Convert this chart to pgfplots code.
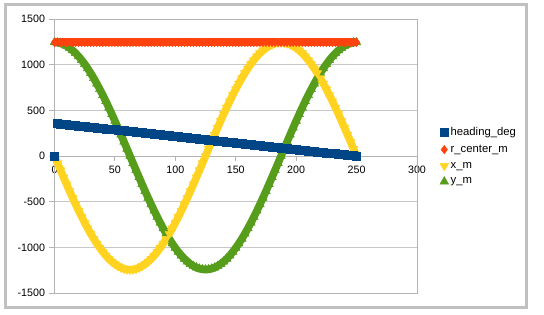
\documentclass[border=0pt]{standalone}
\usepackage{pgfplots}
\usepackage{pgfplotstable}
\pgfplotsset{compat=1.18}
\usepackage{fontspec}
\setmainfont{Liberation Sans}
\definecolor{cH}{HTML}{004586}
\definecolor{cR}{HTML}{FF420E}
\definecolor{cX}{HTML}{FFD320}
\definecolor{cY}{HTML}{579D1C}
\definecolor{gridGray}{HTML}{C8C8C8}
\definecolor{axisGray}{HTML}{B3B3B3}
\definecolor{frameGray}{HTML}{C0C0C0}

\pgfplotstableread{
t h r x y
0 0 1243.95 0 1243.95
2.5 356.4 1243.95 -78.11 1241.50
5 352.8 1243.95 -155.91 1234.14
7.5 349.2 1243.95 -233.09 1221.92
10 345.6 1243.95 -309.36 1204.87
12.5 342 1243.95 -384.40 1183.07
15 338.4 1243.95 -457.93 1156.59
17.5 334.8 1243.95 -529.65 1125.56
20 331.2 1243.95 -599.28 1090.08
22.5 327.6 1243.95 -666.54 1050.30
25 324 1243.95 -731.17 1006.38
27.5 320.4 1243.95 -792.93 958.48
30 316.8 1243.95 -851.54 906.80
32.5 313.2 1243.95 -906.80 851.54
35 309.6 1243.95 -958.48 792.93
37.5 306 1243.95 -1006.38 731.17
40 302.4 1243.95 -1050.30 666.54
42.5 298.8 1243.95 -1090.08 599.28
45 295.2 1243.95 -1125.56 529.65
47.5 291.6 1243.95 -1156.59 457.93
50 288 1243.95 -1183.07 384.40
52.5 284.4 1243.95 -1204.87 309.36
55 280.8 1243.95 -1221.92 233.09
57.5 277.2 1243.95 -1234.14 155.91
60 273.6 1243.95 -1241.50 78.11
62.5 270 1243.95 -1243.95 0
65 266.4 1243.95 -1241.50 -78.11
67.5 262.8 1243.95 -1234.14 -155.91
70 259.2 1243.95 -1221.92 -233.09
72.5 255.6 1243.95 -1204.87 -309.36
75 252 1243.95 -1183.07 -384.40
77.5 248.4 1243.95 -1156.59 -457.93
80 244.8 1243.95 -1125.56 -529.65
82.5 241.2 1243.95 -1090.08 -599.28
85 237.6 1243.95 -1050.30 -666.54
87.5 234 1243.95 -1006.38 -731.17
90 230.4 1243.95 -958.48 -792.93
92.5 226.8 1243.95 -906.80 -851.54
95 223.2 1243.95 -851.54 -906.80
97.5 219.6 1243.95 -792.93 -958.48
100 216 1243.95 -731.17 -1006.38
102.5 212.4 1243.95 -666.54 -1050.30
105 208.8 1243.95 -599.28 -1090.08
107.5 205.2 1243.95 -529.65 -1125.56
110 201.6 1243.95 -457.93 -1156.59
112.5 198 1243.95 -384.40 -1183.07
115 194.4 1243.95 -309.36 -1204.87
117.5 190.8 1243.95 -233.09 -1221.92
120 187.2 1243.95 -155.91 -1234.14
122.5 183.6 1243.95 -78.11 -1241.50
125 180 1243.95 0 -1243.95
127.5 176.4 1243.95 78.11 -1241.50
130 172.8 1243.95 155.91 -1234.14
132.5 169.2 1243.95 233.09 -1221.92
135 165.6 1243.95 309.36 -1204.87
137.5 162 1243.95 384.40 -1183.07
140 158.4 1243.95 457.93 -1156.59
142.5 154.8 1243.95 529.65 -1125.56
145 151.2 1243.95 599.28 -1090.08
147.5 147.6 1243.95 666.54 -1050.30
150 144 1243.95 731.17 -1006.38
152.5 140.4 1243.95 792.93 -958.48
155 136.8 1243.95 851.54 -906.80
157.5 133.2 1243.95 906.80 -851.54
160 129.6 1243.95 958.48 -792.93
162.5 126 1243.95 1006.38 -731.17
165 122.4 1243.95 1050.30 -666.54
167.5 118.8 1243.95 1090.08 -599.28
170 115.2 1243.95 1125.56 -529.65
172.5 111.6 1243.95 1156.59 -457.93
175 108 1243.95 1183.07 -384.40
177.5 104.4 1243.95 1204.87 -309.36
180 100.8 1243.95 1221.92 -233.09
182.5 97.2 1243.95 1234.14 -155.91
185 93.6 1243.95 1241.50 -78.11
187.5 90 1243.95 1243.95 0
190 86.4 1243.95 1241.50 78.11
192.5 82.8 1243.95 1234.14 155.91
195 79.2 1243.95 1221.92 233.09
197.5 75.6 1243.95 1204.87 309.36
200 72 1243.95 1183.07 384.40
202.5 68.4 1243.95 1156.59 457.93
205 64.8 1243.95 1125.56 529.65
207.5 61.2 1243.95 1090.08 599.28
210 57.6 1243.95 1050.30 666.54
212.5 54 1243.95 1006.38 731.17
215 50.4 1243.95 958.48 792.93
217.5 46.8 1243.95 906.80 851.54
220 43.2 1243.95 851.54 906.80
222.5 39.6 1243.95 792.93 958.48
225 36 1243.95 731.17 1006.38
227.5 32.4 1243.95 666.54 1050.30
230 28.8 1243.95 599.28 1090.08
232.5 25.2 1243.95 529.65 1125.56
235 21.6 1243.95 457.93 1156.59
237.5 18 1243.95 384.40 1183.07
240 14.4 1243.95 309.36 1204.87
242.5 10.8 1243.95 233.09 1221.92
245 7.2 1243.95 155.91 1234.14
247.5 3.6 1243.95 78.11 1241.50
250 0 1243.95 0 1243.95
}\data

\begin{document}
\begin{tikzpicture}[x=1pt,y=1pt]
\fill[white] (0,0) rectangle (544,314);
\draw[line width=3pt, frameGray] (5.5,6.5) rectangle (526.5,309.5);
\begin{axis}[
  at={(54.5pt,21pt)}, anchor=south west,
  scale only axis, width=362.5pt, height=274pt,
  xmin=0, xmax=300, ymin=-1500, ymax=1500,
  axis x line*=middle, axis y line*=left,
  hide obscured x ticks=false, hide obscured y ticks=false,
  xtick={0,50,...,300}, ytick={-1500,-1000,...,1500},
  ymajorgrids, grid style={gridGray, line width=0.9pt},
  axis line style={axisGray, line width=0.9pt},
  tick style={axisGray, line width=0.9pt},
  tick align=outside, major tick length=5pt,
  ticklabel style={font=\fontsize{10.7}{12}\selectfont, black},
  /pgf/number format/assume math mode=true,
  /pgf/number format/1000 sep={},
  yticklabel style={xshift=-1pt},
  xticklabel style={yshift=-1pt},
  clip=false,
  reverse legend,
  legend style={at={(rel axis cs:1.060,0.616)}, anchor=north west, draw=none, fill=none,
    font=\fontsize{11.3}{13}\selectfont, row sep=4.1pt, legend cell align=left, inner sep=1pt},
  legend image code/.code={\draw[#1] plot coordinates {(0pt,0pt)};},
]
\draw[axisGray, line width=0.9pt] (rel axis cs:0,0) rectangle (rel axis cs:1,1);
\addplot[forget plot, no marks, cY, line width=7.6pt, line join=round] table[x=t, y=y] {\data};
\addplot[only marks, mark=triangle*, mark size=5pt, color=cY, mark options={draw=none, fill=cY}] table[x=t, y=y] {\data};
\addlegendentry{y\_m}
\addplot[forget plot, no marks, cX, line width=7.6pt, line join=round] table[x=t, y=x] {\data};
\addplot[only marks, mark=triangle*, mark size=5pt, color=cX, mark options={draw=none, fill=cX, rotate=180}] table[x=t, y=x] {\data};
\addlegendentry{x\_m}
\addplot[forget plot, no marks, cR, line width=8pt] table[x=t, y=r] {\data};
\addplot[only marks, mark=diamond*, mark size=4.3pt, color=cR, mark options={draw=none, fill=cR}] table[x=t, y=r] {\data};
\addlegendentry{r\_center\_m}
\addplot[forget plot, no marks, cH, line width=8pt] table[x=t, y=h, skip coords between index={0}{1}] {\data};
\addplot[only marks, mark=square*, mark size=4pt, color=cH, mark options={draw=none, fill=cH}] table[x=t, y=h] {\data};
\addlegendentry{heading\_deg}
\end{axis}
\end{tikzpicture}
\end{document}
